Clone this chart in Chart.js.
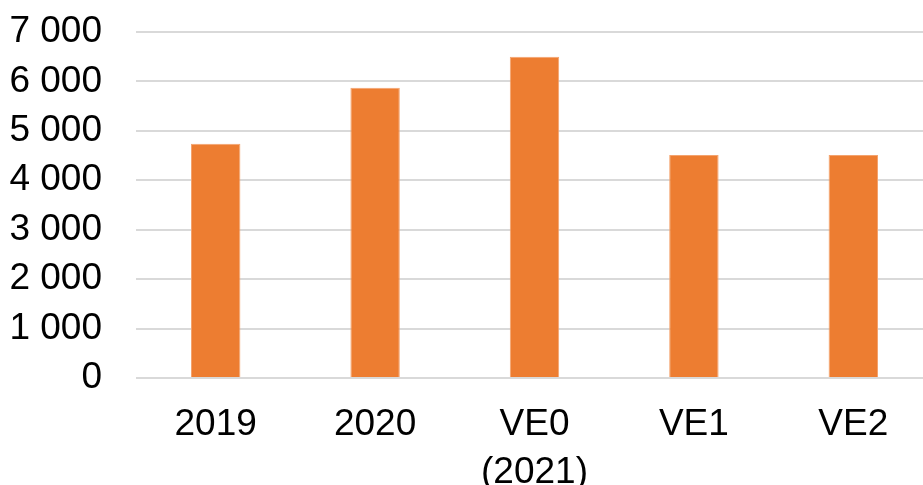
<!DOCTYPE html>
<html>
<head>
<meta charset="utf-8">
<script src="https://cdn.jsdelivr.net/npm/chart.js@4/dist/chart.umd.min.js"></script>
<style>
  html, body { margin: 0; padding: 0; background: #ffffff; overflow: hidden; }
  #wrap { width: 933px; height: 485px; }
</style>
</head>
<body>
<div id="wrap"><canvas id="c" width="933" height="485"></canvas></div>
<script>
// Categories and values for the bar series
const categories = ['2019', '2020', ['VE0', '(2021)'], 'VE1', 'VE2'];
const values = [4740, 5870, 6500, 4510, 4510];
// Y axis tick range
const yMin = 0;
const yMax = 7000;
const yStep = 1000;

const FONT = "'Liberation Sans', Arial, Helvetica, sans-serif";

function formatThousands(v) {
  // group thousands with a plain space, e.g. 7 000
  return String(v).replace(/\B(?=(\d{3})+(?!\d))/g, ' ');
}

new Chart(document.getElementById('c'), {
  type: 'bar',
  data: {
    labels: categories,
    datasets: [{
      data: values,
      backgroundColor: '#ED7D31',
      borderColor: '#F4A36E',
      borderWidth: 1,
      barPercentage: 0.31,
      categoryPercentage: 1.0
    }]
  },
  options: {
    responsive: false,
    animation: false,
    devicePixelRatio: 1,
    layout: { padding: { top: 32, right: 0, bottom: 0, left: 0 } },
    plugins: {
      legend: { display: false },
      tooltip: { enabled: false }
    },
    scales: {
      x: {
        grid: { display: false, drawTicks: false },
        border: { display: false },
        ticks: {
          color: '#000000',
          padding: 23,
          maxRotation: 0,
          autoSkip: false,
          font: { family: FONT, size: 37, lineHeight: 1.3 }
        },
        afterFit: (scale) => { scale.height = 107; }
      },
      y: {
        min: yMin,
        max: yMax,
        grid: { color: '#d9d9d9', lineWidth: 2, drawTicks: false },
        border: { display: false },
        ticks: {
          stepSize: yStep,
          autoSkip: false,
          color: '#000000',
          padding: 34,
          font: { family: FONT, size: 37 },
          callback: (v) => formatThousands(v)
        },
        afterFit: (scale) => {
          scale.width = 136;
          scale.paddingTop = 0;
          scale.paddingBottom = 0;
        }
      }
    }
  }
});
</script>
</body>
</html>
